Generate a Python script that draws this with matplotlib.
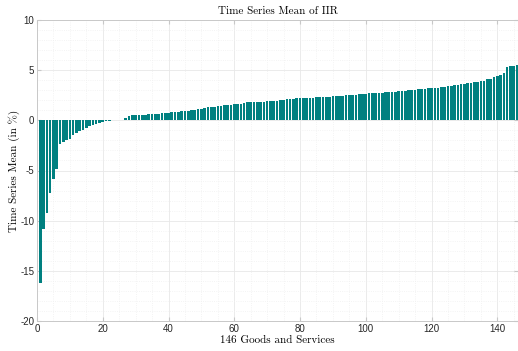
import matplotlib.pyplot as plt
import numpy as np
from matplotlib.ticker import MultipleLocator

# sorted time series means of IIR (in %), one per good/service
iir_mean = [
    -16.2, -10.85, -9.2, -7.25, -5.85, -4.9, -2.4, -2.2, -2.0, -1.85,
    -1.45, -1.3, -1.1, -1.0, -0.75, -0.6, -0.5, -0.35, -0.22, -0.12,
    -0.05, -0.02, 0.0, 0.02, 0.03, 0.05,
    0.2,
    0.45, 0.5, 0.52, 0.53, 0.55, 0.57,
    0.6, 0.62, 0.65, 0.68, 0.7, 0.72, 0.75,
    0.8, 0.83, 0.86, 0.9, 0.93, 0.97, 1.0,
    1.03, 1.08, 1.15, 1.25, 1.28, 1.32, 1.36, 1.4, 1.45, 1.48, 1.52, 1.55, 1.6,
    1.63, 1.66, 1.75, 1.78, 1.8, 1.82, 1.83, 1.85, 1.86, 1.88,
    1.9, 1.92, 1.95, 2.0, 2.03, 2.08, 2.12, 2.15, 2.18, 2.2,
    2.21, 2.22, 2.24, 2.26, 2.28, 2.3, 2.32, 2.34, 2.36, 2.38,
    2.4, 2.43, 2.46, 2.5, 2.52, 2.55, 2.57, 2.6, 2.62, 2.65,
    2.68, 2.7, 2.72, 2.74, 2.76, 2.78, 2.8, 2.83, 2.86, 2.9, 2.93, 2.97,
    3.0, 3.02, 3.05, 3.08, 3.12, 3.15, 3.18, 3.2, 3.23, 3.26, 3.3, 3.33,
    3.38, 3.42, 3.48, 3.55, 3.6, 3.65, 3.7, 3.75, 3.8, 3.85, 3.9, 3.95,
    4.1, 4.15, 4.35, 4.45, 4.5, 4.7,
    5.35, 5.45, 5.45, 5.55,
]
assert len(iir_mean) == 146
items = np.arange(1, len(iir_mean) + 1)

x_ticks = [0, 20, 40, 60, 80, 100, 120, 140]
y_ticks = [-20, -15, -10, -5, 0, 5, 10]

tick_font = 'Liberation Sans'
text_font = ['cmr10', 'DejaVu Serif']
plt.rcParams['axes.unicode_minus'] = False

fig = plt.figure(figsize=(5.18, 3.51), dpi=100)
ax = fig.add_axes([37/518, 30/351, (518-37)/518, 301/351])

ax.bar(items, iir_mean, width=0.8, color='#008080', edgecolor='none', zorder=3)

ax.set_xlim(0, 146.3)
ax.set_ylim(-20, 10)
ax.set_xticks(x_ticks)
ax.set_yticks(y_ticks)
ax.xaxis.set_minor_locator(MultipleLocator(5))
ax.yaxis.set_minor_locator(MultipleLocator(1))

ax.grid(which='major', color='#e8e8e8', linestyle='-', linewidth=0.6, zorder=0)
ax.grid(which='minor', color='#f0f0f0', linestyle=':', linewidth=0.6, zorder=0)
ax.set_axisbelow(True)

for s in ax.spines.values():
    s.set_color('#c8c8c8')
    s.set_linewidth(0.7)

ax.tick_params(which='both', direction='in', top=True, right=True,
               color='#c8c8c8', labelcolor='#262626', labelsize=7)
ax.tick_params(which='major', length=3, pad=2)
ax.tick_params(which='minor', length=0)
for lab in ax.get_xticklabels() + ax.get_yticklabels():
    lab.set_fontfamily(tick_font)

ax.set_title("Time Series Mean of IIR", family=text_font, size=8, pad=4)
ax.set_xlabel("146 Goods and Services", family=text_font, size=8, labelpad=1)
ax.set_ylabel("Time Series Mean (in %)", family=text_font, size=8, labelpad=0)

plt.savefig("out.png", dpi=100)
plt.close()
